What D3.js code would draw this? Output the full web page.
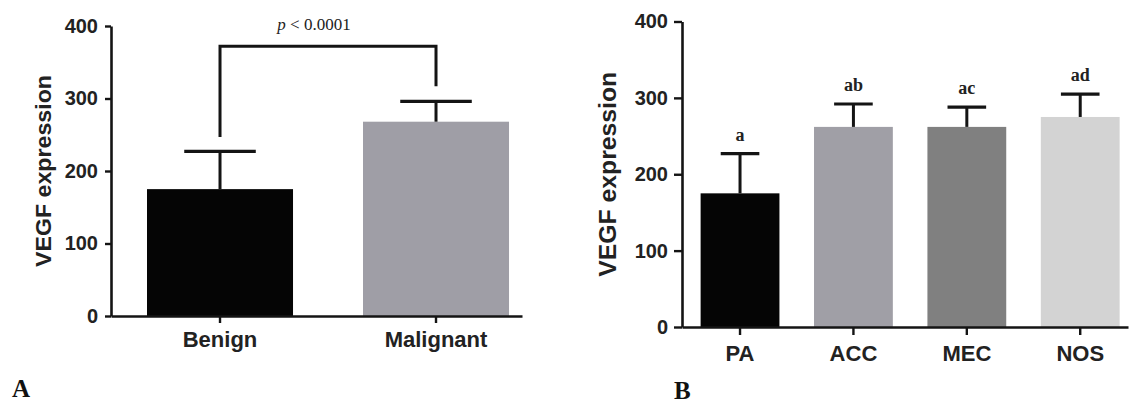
<!DOCTYPE html>
<html><head><meta charset="utf-8">
<script src="https://cdn.jsdelivr.net/npm/d3@7/dist/d3.min.js"></script>
<style>
html,body{margin:0;padding:0;background:#fff;}
svg{display:block;}
</style></head><body>
<svg id="chart" width="1132" height="405"></svg>
<script>
// ---------- Panel A data ----------
const catsA = ["Benign", "Malignant"];
const meanA = [175, 268];
const errTopA = [227, 296];          // mean + SD
const colorsA = ["#050505", "#9f9ea6"];
const bracketA = { from: "Benign", to: "Malignant", top: 372, leftEnd: 247, rightEnd: 317 };
const pLabelParts = ["p", " < 0.0001"];

// ---------- Panel B data ----------
const catsB = ["PA", "ACC", "MEC", "NOS"];
const meanB = [175, 262, 262, 275];
const errTopB = [227, 292, 288, 305];
const colorsB = ["#050505", "#a09fa6", "#808080", "#d3d3d3"];
const lettersB = ["a", "ab", "ac", "ad"];

// ---------- shared ----------
const yTicks = [0, 100, 200, 300, 400];
const yDomain = [0, 400];
const yTitle = "VEGF expression";
const panelLabels = ["A", "B"];

const svg = d3.select("#chart");
const SANS = "'Liberation Sans', Arial, Helvetica, sans-serif";
const SERIF = "'Liberation Serif', 'Times New Roman', serif";
const INK = "#141414";

function drawPanel(cfg) {
  const g = svg.append("g");
  const x = d3.scaleBand().domain(cfg.cats).range(cfg.xRange)
    .paddingInner(cfg.pi).paddingOuter(cfg.po).align(cfg.align);
  const y = d3.scaleLinear().domain(yDomain).range(cfg.yRange);

  // bars
  g.selectAll("rect.bar").data(cfg.cats).join("rect")
    .attr("class", "bar")
    .attr("x", d => x(d))
    .attr("width", x.bandwidth())
    .attr("y", (d, i) => y(cfg.mean[i]))
    .attr("height", (d, i) => y(0) - y(cfg.mean[i]))
    .attr("fill", (d, i) => cfg.colors[i]);

  // error bars
  const capW = x.bandwidth() * 0.49;
  cfg.cats.forEach((c, i) => {
    const cx = x(c) + x.bandwidth() / 2;
    g.append("line").attr("x1", cx).attr("x2", cx)
      .attr("y1", y(cfg.mean[i])).attr("y2", y(cfg.err[i]))
      .attr("stroke", INK).attr("stroke-width", 3);
    g.append("line").attr("x1", cx - capW / 2).attr("x2", cx + capW / 2)
      .attr("y1", y(cfg.err[i])).attr("y2", y(cfg.err[i]))
      .attr("stroke", INK).attr("stroke-width", 3.2);
  });

  // x axis
  const xAxis = d3.axisBottom(x).tickSizeInner(cfg.xTickSize).tickSizeOuter(0).tickPadding(cfg.xTickPad);
  const gx = g.append("g").attr("transform", `translate(0,${y(0)})`).call(xAxis);
  gx.select(".domain").attr("stroke", INK).attr("stroke-width", 2.6);
  gx.selectAll(".tick line").attr("stroke", INK).attr("stroke-width", 2.4);
  gx.selectAll(".tick text").attr("font-family", SANS).attr("font-weight", "bold")
    .attr("font-size", cfg.xLabelFont).attr("fill", "#222");

  // y axis
  const yAxis = d3.axisLeft(y).tickValues(yTicks).tickSizeInner(cfg.yTickSize).tickSizeOuter(0).tickPadding(cfg.yTickPad);
  const gy = g.append("g").attr("transform", `translate(${cfg.xRange[0]},0)`).call(yAxis);
  gy.select(".domain").attr("stroke", INK).attr("stroke-width", 2.6);
  gy.selectAll(".tick line").attr("stroke", INK).attr("stroke-width", 2.4);
  gy.selectAll(".tick text").attr("font-family", SANS).attr("font-weight", "bold")
    .attr("font-size", cfg.yTickFont).attr("fill", "#222");

  // y title
  const ym = (cfg.yRange[0] + cfg.yRange[1]) / 2;
  g.append("text")
    .attr("transform", `translate(${cfg.titleX},${ym}) rotate(-90)`)
    .attr("text-anchor", "middle")
    .attr("font-family", SANS).attr("font-weight", "bold")
    .attr("font-size", cfg.titleFont).attr("fill", "#222")
    .attr("textLength", cfg.titleLen).attr("lengthAdjust", "spacingAndGlyphs")
    .text(yTitle);

  // panel letter
  g.append("text").attr("x", cfg.panelX).attr("y", cfg.panelY)
    .attr("font-family", SERIF).attr("font-weight", "bold").attr("font-size", 25)
    .attr("fill", "#111").text(cfg.panel);

  return { g, x, y };
}

// Panel A
const A = drawPanel({
  cats: catsA, mean: meanA, err: errTopA, colors: colorsA,
  xRange: [111, 522], yRange: [316, 26], pi: 0.324, po: 0.1134, align: 0.735,
  xTickSize: 7, xTickPad: 8, yTickSize: 6, yTickPad: 7,
  xLabelFont: 22, yTickFont: 20, titleFont: 22, titleX: 51, titleLen: 192,
  panel: panelLabels[0], panelX: 12, panelY: 397
});
// significance bracket
{
  const { g, x, y } = A;
  const xl = x(bracketA.from) + x.bandwidth() / 2;
  const xr = x(bracketA.to) + x.bandwidth() / 2;
  const path = d3.path();
  path.moveTo(xl, y(bracketA.leftEnd));
  path.lineTo(xl, y(bracketA.top));
  path.lineTo(xr, y(bracketA.top));
  path.lineTo(xr, y(bracketA.rightEnd));
  g.append("path").attr("d", path.toString()).attr("fill", "none")
    .attr("stroke", INK).attr("stroke-width", 3);
  const t = g.append("text").attr("x", (xl + xr) / 2 - 14).attr("y", y(bracketA.top) - 16)
    .attr("text-anchor", "middle").attr("font-family", SERIF).attr("font-size", 17).attr("fill", "#222");
  t.append("tspan").attr("font-style", "italic").text(pLabelParts[0]);
  t.append("tspan").text(pLabelParts[1]);
}

// Panel B
const B = drawPanel({
  cats: catsB, mean: meanB, err: errTopB, colors: colorsB,
  xRange: [682, 1128], yRange: [327, 21.5], pi: 0.305, po: 0.119, align: 0.69,
  xTickSize: 8, xTickPad: 10, yTickSize: 8, yTickPad: 6,
  xLabelFont: 22, yTickFont: 20, titleFont: 23, titleX: 616, titleLen: 205,
  panel: panelLabels[1], panelX: 674, panelY: 399
});
{
  const { g, x, y } = B;
  g.selectAll("text.sig").data(catsB).join("text").attr("class", "sig")
    .attr("x", d => x(d) + x.bandwidth() / 2)
    .attr("y", (d, i) => y(errTopB[i]) - 13)
    .attr("text-anchor", "middle").attr("font-family", SERIF).attr("font-weight", "bold")
    .attr("font-size", 18).attr("fill", "#222")
    .text((d, i) => lettersB[i]);
}
</script>
</body></html>
